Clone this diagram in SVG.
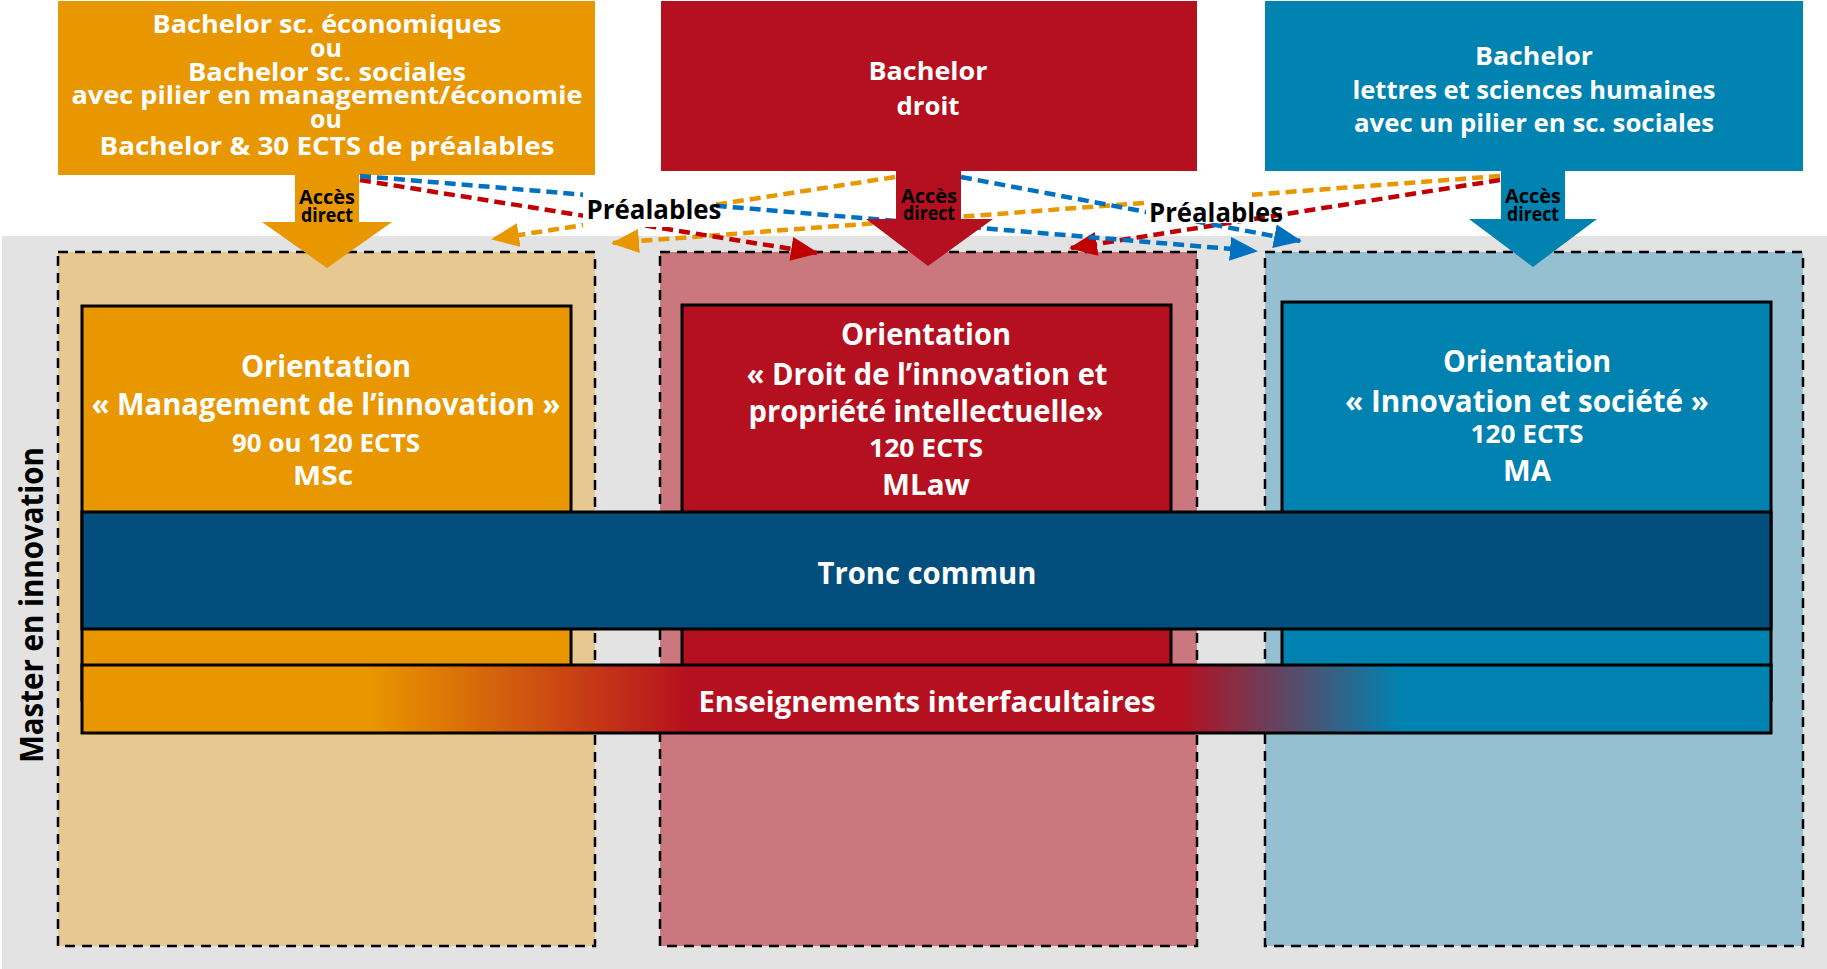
<svg xmlns="http://www.w3.org/2000/svg" width="1827" height="969" viewBox="0 0 1827 969">
<defs>
<style>
text { font-family: 'Open Sans', 'Liberation Sans', sans-serif; font-weight: 700; text-anchor: middle; }
.w { fill: #ffffff; }
.k { fill: #000000; }
.f25 { font-size: 25px; }
.f30 { font-size: 30px; }
.f20 { font-size: 19px; }
.f27 { font-size: 27px; }
.dash { stroke: #000; stroke-width: 2.5; stroke-dasharray: 10 7; }
.inner { stroke: #000; stroke-width: 3; }
.cn { fill: none; stroke-width: 4.5; stroke-dasharray: 11 6; }
.co { stroke: #e99700; }
.cr { stroke: #c00000; }
.cb { stroke: #0070c0; }
</style>
<linearGradient id="gEns" x1="0" y1="0" x2="1" y2="0">
<stop offset="0.17" stop-color="#e99700"/>
<stop offset="0.36" stop-color="#b5101f"/>
<stop offset="0.65" stop-color="#b5101f"/>
<stop offset="0.78" stop-color="#0082b0"/>
</linearGradient>
<marker id="mo" viewBox="0 0 28 24" refX="26" refY="12" markerWidth="28" markerHeight="24" markerUnits="userSpaceOnUse" orient="auto"><path d="M0,0 L28,12 L0,24 Z" fill="#e99700"/></marker>
<marker id="mr" viewBox="0 0 28 24" refX="26" refY="12" markerWidth="28" markerHeight="24" markerUnits="userSpaceOnUse" orient="auto"><path d="M0,0 L28,12 L0,24 Z" fill="#c00000"/></marker>
<marker id="mb" viewBox="0 0 28 24" refX="26" refY="12" markerWidth="28" markerHeight="24" markerUnits="userSpaceOnUse" orient="auto"><path d="M0,0 L28,12 L0,24 Z" fill="#0070c0"/></marker>
</defs>

<rect x="0" y="0" width="1827" height="969" fill="#ffffff"/>
<rect id="background" x="2" y="236" width="1825" height="733" fill="#e3e3e3"/>

<g id="master-label">
<text class="k" font-size="32" transform="translate(43,605) rotate(-90)" textLength="316" lengthAdjust="spacingAndGlyphs">Master en innovation</text>
</g>

<g id="zone-management">
<rect class="dash" x="58" y="252" width="537" height="694" fill="#e6c890"/>
</g>
<g id="zone-droit">
<rect class="dash" x="660" y="252" width="537" height="694" fill="#cb777e"/>
</g>
<g id="zone-societe">
<rect class="dash" x="1265" y="252" width="538" height="694" fill="#94c0d2"/>
</g>

<g id="orientation-management">
<rect class="inner" x="82" y="306" width="489" height="394" fill="#e99700"/>
<text class="w f30" x="326" y="377" textLength="170" lengthAdjust="spacingAndGlyphs">Orientation</text>
<text class="w f30" x="326" y="415" textLength="469" lengthAdjust="spacingAndGlyphs">« Management de l’innovation »</text>
<text class="w f25" x="326" y="452" textLength="188" lengthAdjust="spacingAndGlyphs">90 ou 120 ECTS</text>
<text class="w" font-size="26" x="323" y="485" textLength="60" lengthAdjust="spacingAndGlyphs">MSc</text>
</g>

<g id="orientation-droit">
<rect class="inner" x="682" y="305" width="489" height="395" fill="#b5101f"/>
<text class="w f30" x="926" y="345" textLength="170" lengthAdjust="spacingAndGlyphs">Orientation</text>
<text class="w f30" x="927" y="385" textLength="361" lengthAdjust="spacingAndGlyphs">« Droit de l’innovation et</text>
<text class="w f30" x="926" y="422" textLength="355" lengthAdjust="spacingAndGlyphs">propriété intellectuelle»</text>
<text class="w f25" x="926" y="457" textLength="114" lengthAdjust="spacingAndGlyphs">120 ECTS</text>
<text class="w" font-size="28" x="926" y="495" textLength="88" lengthAdjust="spacingAndGlyphs">MLaw</text>
</g>

<g id="orientation-societe">
<rect class="inner" x="1282" y="302" width="489" height="398" fill="#0082b0"/>
<text class="w f30" x="1527" y="372" textLength="168" lengthAdjust="spacingAndGlyphs">Orientation</text>
<text class="w f30" x="1527" y="412" textLength="364" lengthAdjust="spacingAndGlyphs">« Innovation et société »</text>
<text class="w f25" x="1527" y="443" textLength="113" lengthAdjust="spacingAndGlyphs">120 ECTS</text>
<text class="w" font-size="29" x="1527" y="481" textLength="48" lengthAdjust="spacingAndGlyphs">MA</text>
</g>

<g id="tronc-commun">
<rect class="inner" x="82" y="512" width="1689" height="117" fill="#024e7d"/>
<text class="w" font-size="31" x="927" y="584" textLength="219" lengthAdjust="spacingAndGlyphs">Tronc commun</text>
</g>

<g id="enseignements">
<rect class="inner" x="82" y="665" width="1689" height="68" fill="url(#gEns)"/>
<text class="w" font-size="29" x="927" y="712" textLength="457" lengthAdjust="spacingAndGlyphs">Enseignements interfacultaires</text>
</g>

<g id="bachelor-eco">
<rect x="58" y="1" width="537" height="174" fill="#e99700"/>
<text class="w f25" x="327" y="33" textLength="349" lengthAdjust="spacingAndGlyphs">Bachelor sc. économiques</text>
<text class="w f25" x="326" y="57">ou</text>
<text class="w f25" x="327" y="81" textLength="278" lengthAdjust="spacingAndGlyphs">Bachelor sc. sociales</text>
<text class="w f25" x="327" y="104" textLength="511" lengthAdjust="spacingAndGlyphs">avec pilier en management/économie</text>
<text class="w f25" x="326" y="128">ou</text>
<text class="w f25" x="327" y="155" textLength="455" lengthAdjust="spacingAndGlyphs">Bachelor &amp; 30 ECTS de préalables</text>
</g>

<g id="bachelor-droit">
<rect x="661" y="1" width="536" height="170" fill="#b5101f"/>
<text class="w f25" x="928" y="80" textLength="119" lengthAdjust="spacingAndGlyphs">Bachelor</text>
<text class="w f25" x="928" y="115" textLength="63" lengthAdjust="spacingAndGlyphs">droit</text>
</g>

<g id="bachelor-lettres">
<rect x="1265" y="1" width="538" height="170" fill="#0083b0"/>
<text class="w f25" x="1534" y="65" textLength="118" lengthAdjust="spacingAndGlyphs">Bachelor</text>
<text class="w f25" x="1534" y="99" textLength="363" lengthAdjust="spacingAndGlyphs">lettres et sciences humaines</text>
<text class="w f25" x="1534" y="132" textLength="360" lengthAdjust="spacingAndGlyphs">avec un pilier en sc. sociales</text>
</g>

<g id="connectors">
<line class="cn co" x1="895" y1="177" x2="493" y2="239" marker-end="url(#mo)"/>
<line class="cn co" x1="1500" y1="176" x2="613" y2="243" marker-end="url(#mo)"/>
<line class="cn cr" x1="360" y1="180" x2="817" y2="253" marker-end="url(#mr)"/>
<line class="cn cr" x1="1500" y1="180" x2="1071" y2="248" marker-end="url(#mr)"/>
<line class="cn cb" x1="360" y1="176" x2="1256" y2="251" marker-end="url(#mb)"/>
<line class="cn cb" x1="961" y1="177" x2="1300" y2="241" marker-end="url(#mb)"/>
</g>

<g id="acces-management">
<path d="M295,174 H359 V222 H392 L327,268 L262,222 H295 Z" fill="#e99700"/>
<text class="k f20" x="327" y="204" textLength="56" lengthAdjust="spacingAndGlyphs">Accès</text>
<text class="k f20" x="327" y="221.5" textLength="52" lengthAdjust="spacingAndGlyphs">direct</text>
</g>
<g id="acces-droit">
<path d="M896,170 H961 V219 H993 L928,266 L866,219 H896 Z" fill="#b5101f"/>
<text class="k f20" x="929" y="202.5" textLength="56" lengthAdjust="spacingAndGlyphs">Accès</text>
<text class="k f20" x="929" y="219.5" textLength="52" lengthAdjust="spacingAndGlyphs">direct</text>
</g>
<g id="acces-societe">
<path d="M1501,170 H1565 V219 H1597 L1533,267 L1469,219 H1501 Z" fill="#0083b0"/>
<text class="k f20" x="1533" y="203" textLength="56" lengthAdjust="spacingAndGlyphs">Accès</text>
<text class="k f20" x="1533" y="220.5" textLength="52" lengthAdjust="spacingAndGlyphs">direct</text>
</g>

<g id="prealables-left">
<rect x="583" y="192" width="127" height="35" fill="#ffffff"/>
<text class="k f27" x="654" y="219" textLength="135" lengthAdjust="spacingAndGlyphs">Préalables</text>
</g>
<g id="prealables-right">
<rect x="1146" y="190" width="106" height="33" fill="#ffffff"/>
<text class="k f27" x="1216" y="221.5" textLength="134" lengthAdjust="spacingAndGlyphs">Préalables</text>
</g>
</svg>
